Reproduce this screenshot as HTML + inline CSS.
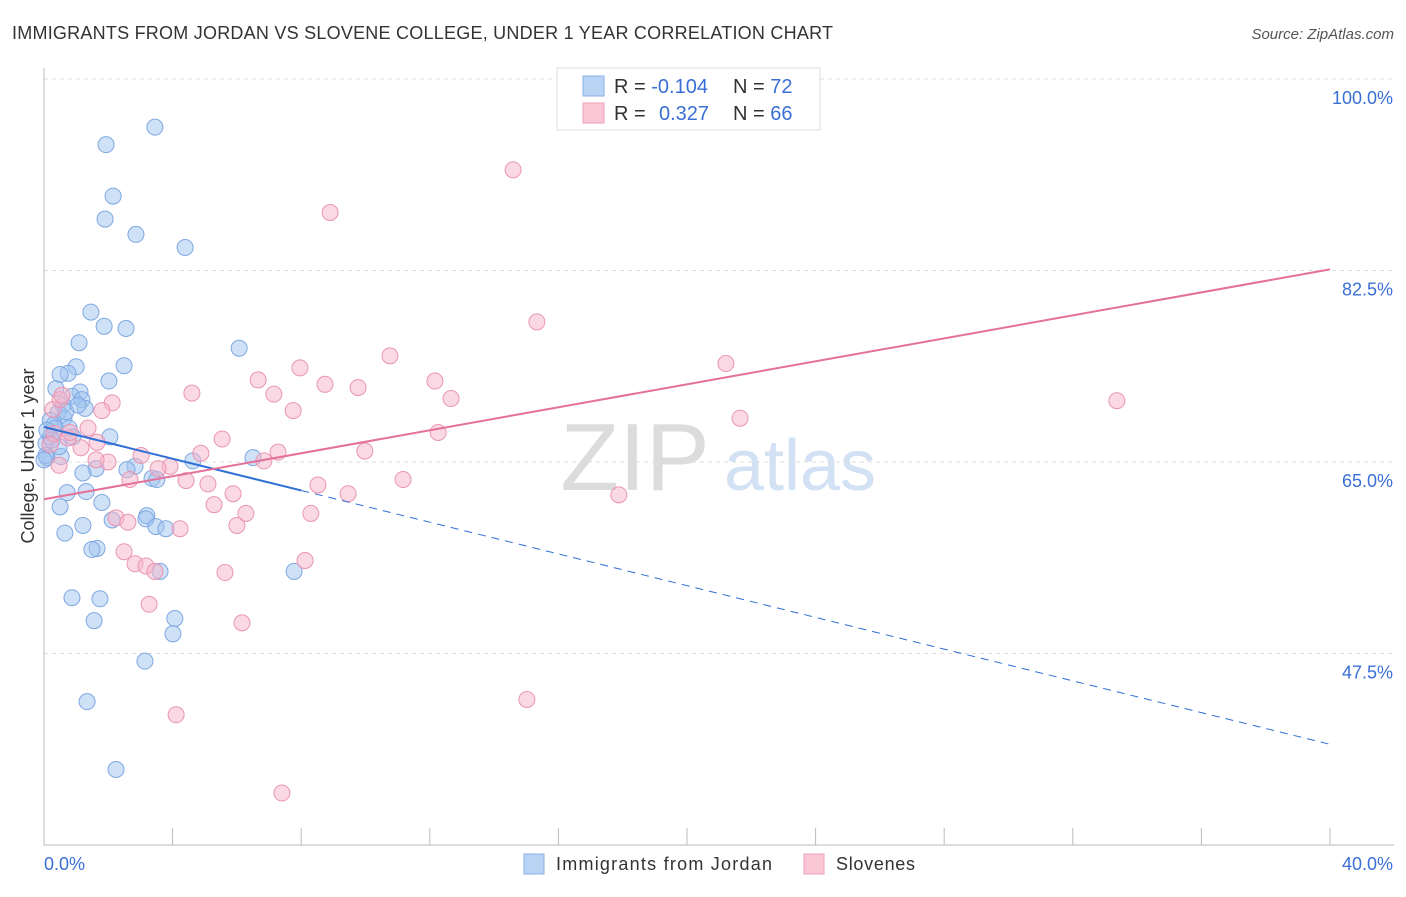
<!DOCTYPE html>
<html><head><meta charset="utf-8"><style>
body{margin:0;background:#fff;font-family:"Liberation Sans",sans-serif;}
svg text{font-family:"Liberation Sans",sans-serif;}
</style></head><body>
<svg id="chart" width="1406" height="892">
<text x="12" y="39" font-size="18" fill="#333" textLength="821">IMMIGRANTS FROM JORDAN VS SLOVENE COLLEGE, UNDER 1 YEAR CORRELATION CHART</text>
<text x="1394" y="39" font-size="15" fill="#555" font-style="italic" text-anchor="end">Source: ZipAtlas.com</text>
<text x="635" y="490" font-size="96" fill="#dcdcdc" text-anchor="middle" font-family="Liberation Serif">ZIP</text>
<text x="800" y="490" font-size="72" fill="#d3e1f4" text-anchor="middle">atlas</text>
<g id="grid"></g><g id="axes"></g><g id="pts"></g><g id="lines"></g>
<text transform="translate(34,456) rotate(-90)" font-size="18" fill="#333" text-anchor="middle">College, Under 1 year</text>
<text x="44" y="870" font-size="18" fill="#3a6fd6">0.0%</text>
<text x="1393" y="870" font-size="18" fill="#3a6fd6" text-anchor="end">40.0%</text>
<g>
<rect x="524" y="854" width="20" height="20" fill="#b9d3f5" stroke="#8bb2e6"/>
<text x="556" y="870" font-size="18" fill="#333" textLength="216">Immigrants from Jordan</text>
<rect x="804" y="854" width="20" height="20" fill="#f9c7d6" stroke="#eda1bb"/>
<text x="836" y="870" font-size="18" fill="#333" textLength="79">Slovenes</text>
</g>
<g>
<rect x="557" y="68" width="263" height="62" fill="#fff" stroke="#ddd"/>
<rect x="583" y="76" width="21" height="20" fill="#b9d3f5" stroke="#8bb2e6"/>
<rect x="583" y="103" width="21" height="20" fill="#f9c7d6" stroke="#eda1bb"/>
<text x="614" y="93" font-size="20" fill="#333">R = <tspan fill="#3a6fd6">-0.104</tspan></text>
<text x="733" y="93" font-size="20" fill="#333">N = <tspan fill="#3a6fd6">72</tspan></text>
<text x="614" y="120" font-size="20" fill="#333">R = <tspan fill="#3a6fd6" x="659">0.327</tspan></text>
<text x="733" y="120" font-size="20" fill="#333">N = <tspan fill="#3a6fd6">66</tspan></text>
</g>
</svg>
<script>
const yTicks=[100,82.5,65,47.5];
const yTickLabels=["100.0%","82.5%","65.0%","47.5%"];
const blueX=[3.45,1.93,2.15,1.90,2.86,4.39,1.46,1.87,2.55,1.09,6.07,1.00,2.49,0.75,2.02,0.37,1.12,0.87,1.18,0.59,1.28,0.44,0.62,0.19,0.31,0.78,0.34,0.90,2.05,0.19,0.06,0.53,0.09,6.50,4.63,2.83,1.62,2.58,1.21,3.36,3.51,0.72,1.31,0.50,1.80,3.20,3.17,2.12,3.48,3.79,1.21,0.65,1.65,1.49,3.61,7.78,0.87,1.74,1.56,4.07,4.01,3.14,1.34,2.24,0.06,0.25,0.09,0.68,1.06,0.47,0.50,0.0];
const blueY=[95.6,94.0,89.3,87.2,85.8,84.6,78.7,77.4,77.2,75.9,75.4,73.7,73.8,73.1,72.4,71.7,71.4,71.0,70.7,70.2,69.9,69.5,69.0,68.8,68.4,68.1,68.1,67.3,67.3,67.3,66.7,65.5,65.4,65.4,65.1,64.6,64.4,64.3,64.0,63.5,63.4,62.2,62.3,60.9,61.3,60.1,59.8,59.7,59.1,58.9,59.2,58.5,57.1,57.0,55.0,55.0,52.6,52.5,50.5,50.7,49.3,46.8,43.1,36.9,65.6,67.0,67.9,69.6,70.2,66.4,73.0,65.2];
const pinkX=[14.59,8.90,15.33,10.76,21.21,7.96,6.66,8.74,9.77,4.60,12.16,7.15,12.66,33.37,2.12,7.75,1.80,21.65,0.28,0.50,12.26,5.54,1.37,1.65,1.15,0.31,0.75,9.98,7.28,4.88,3.02,6.84,1.99,3.92,3.55,4.42,5.10,11.17,8.52,5.88,9.46,17.88,5.29,6.28,8.30,2.24,2.61,6.00,4.23,2.49,8.12,2.83,3.17,3.45,5.63,3.27,6.16,15.02,4.11,7.40,0.81,0.56,0.19,0.47,1.62,2.67];
const pinkY=[91.7,87.8,77.8,74.7,74.0,73.6,72.5,72.1,71.8,71.3,72.4,71.2,70.8,70.6,70.4,69.7,69.7,69.0,69.8,70.7,67.7,67.1,68.1,66.8,66.3,67.6,67.2,66.0,65.9,65.8,65.6,65.1,65.0,64.6,64.4,63.3,63.0,63.4,62.9,62.1,62.1,62.0,61.1,60.3,60.3,59.9,59.5,59.2,58.9,56.8,56.0,55.7,55.5,55.0,54.9,52.0,50.3,43.3,41.9,34.75,67.7,71.1,66.6,64.7,65.2,63.4];
const blueTrend=[68.2,39.2];
const pinkTrend=[61.6,82.6];
const blueSolidEnd=8;
const NS="http://www.w3.org/2000/svg";
const X=v=>44+v*(1286/40);
const Y=v=>79+(100-v)*10.943;
function mk(p,t,a){const e=document.createElementNS(NS,t);for(const k in a)e.setAttribute(k,a[k]);document.getElementById(p).appendChild(e);return e;}
yTicks.forEach((t,i)=>{
 const g=mk('grid','line',{x1:44,x2:1394,y1:Y(t),y2:Y(t),stroke:'#ddd','stroke-dasharray':'4,4'});
 
 
 const l=mk('grid','text',{x:1393,y:Y(t)+25,'font-size':18,fill:'#3a6fd6','text-anchor':'end'});
 l.textContent=yTickLabels[i];
 
 
});
const ax=mk('axes','line',{x1:44,x2:44,y1:68,y2:845,stroke:'#bbb'});


const bx=mk('axes','line',{x1:44,x2:1394,y1:845,y2:845,stroke:'#bbb'});


for(let i=0;i<=10;i++){
 const tk=mk('axes','line',{x1:X(i*4),x2:X(i*4),y1:828,y2:845,stroke:'#bbb'});
 
 
}
blueX.forEach((v,i)=>{
 const c=mk('pts','circle',{cx:X(v),cy:Y(blueY[i]),r:8,fill:'rgba(160,195,240,0.5)',stroke:'#7ea8e2','stroke-width':1});
 
 
});
pinkX.forEach((v,i)=>{
 const c=mk('pts','circle',{cx:X(v),cy:Y(pinkY[i]),r:8,fill:'rgba(245,180,202,0.5)',stroke:'#ea95b2','stroke-width':1});
 
 
});
const by=x=>blueTrend[0]+(blueTrend[1]-blueTrend[0])*x/40;
const b1=mk('lines','line',{x1:X(0),y1:Y(by(0)),x2:X(blueSolidEnd),y2:Y(by(blueSolidEnd)),stroke:'#2f6fd6','stroke-width':2});


const b2=mk('lines','line',{x1:X(blueSolidEnd),y1:Y(by(blueSolidEnd)),x2:X(40),y2:Y(by(40)),stroke:'#2f6fd6','stroke-width':1,'stroke-dasharray':'8,6'});


const p1=mk('lines','line',{x1:X(0),y1:Y(pinkTrend[0]),x2:X(40),y2:Y(pinkTrend[1]),stroke:'#e5709a','stroke-width':2});


</script>
</body></html>
